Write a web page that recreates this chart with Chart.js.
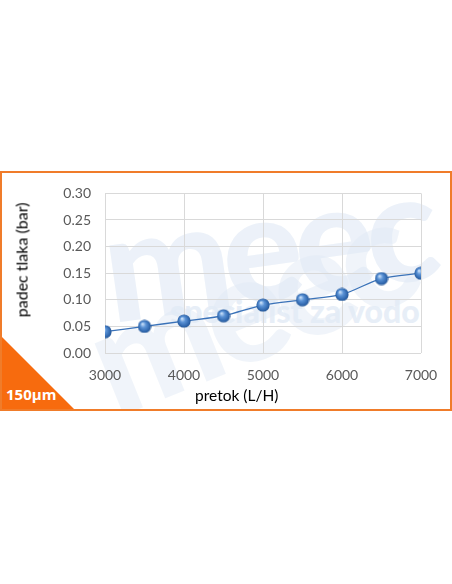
<!DOCTYPE html>
<html>
<head>
<meta charset="utf-8">
<script src="https://cdn.jsdelivr.net/npm/chart.js@4"></script>
<style>
  body { margin: 0; width: 452px; height: 584px; background: #fff; position: relative; overflow: hidden; font-family: Lato, "Open Sans", sans-serif; }
  #box { position: absolute; left: 0; top: 171px; width: 452px; height: 240px; box-sizing: border-box; border: 2px solid #f07c2a; overflow: hidden; }
  .wm { position: absolute; color: #e2ebf6; font-weight: 900; white-space: nowrap; font-family: Lato, sans-serif; }
  #wm1 { left: 100px; top: -20px; font-size: 150px; letter-spacing: -8px; transform: rotate(-8deg); opacity: 0.65; }
  #wm2 { left: 80px; top: 40px; font-size: 150px; letter-spacing: -8px; transform: rotate(-22deg); opacity: 0.5; }
  #wm3 { left: 168px; top: 118px; font-size: 32px; opacity: 0.8; }
  #tri { position: absolute; left: 0; bottom: 0; width: 72px; height: 72px; background: #f76b0e; clip-path: polygon(0 0, 0 100%, 100% 100%); }
  #tag { position: absolute; left: 4px; bottom: 5px; color: #fff; font-weight: bold; font-size: 15px; font-family: "Open Sans", sans-serif; }
  #wrap { position: absolute; left: 0; top: 171px; width: 452px; height: 240px; }
  .title { position: absolute; color: #000; font-family: Lato, sans-serif; white-space: nowrap; }
  #xt { left: 195px; top: 386px; font-size: 15.5px; }
  #yt { left: 21px; top: 260px; font-size: 16px; transform: translate(-50%, -50%) rotate(-90deg); }
</style>
</head>
<body>
<div id="box">
  <div class="wm" id="wm1">meec</div>
  <div class="wm" id="wm2">meec</div>
  <div class="wm" id="wm3">specialist za vodo</div>
  <div id="tri"></div>
  <div id="tag">150µm</div>
</div>
<div id="wrap"><canvas id="chart" width="452" height="240"></canvas></div>
<div class="title" id="xt">pretok (L/H)</div>
<div class="title" id="yt">padec tlaka (bar)</div>
<script>
const flowValues = [3000, 3500, 4000, 4500, 5000, 5500, 6000, 6500, 7000];
const dropValues = [0.04, 0.05, 0.06, 0.07, 0.09, 0.10, 0.11, 0.14, 0.15];
const xTicks = [3000, 4000, 5000, 6000, 7000];
const yTicks = [0, 0.05, 0.10, 0.15, 0.20, 0.25, 0.30];

// kroglica za točke
const ball = document.createElement("canvas");
ball.width = 14; ball.height = 14;
const b = ball.getContext("2d");
const g = b.createRadialGradient(5, 4.5, 0.5, 7, 7, 7);
g.addColorStop(0, "#c4dcf7");
g.addColorStop(0.35, "#5b93d6");
g.addColorStop(0.8, "#2f66ad");
g.addColorStop(1, "#24548f");
b.fillStyle = g;
b.beginPath();
b.arc(7, 7, 6.6, 0, Math.PI * 2);
b.fill();

const points = flowValues.map((x, i) => ({ x, y: dropValues[i] }));

new Chart(document.getElementById("chart"), {
  type: "line",
  data: {
    datasets: [{
      data: points,
      borderColor: "#3a72b8",
      borderWidth: 1.3,
      tension: 0.3,
      pointStyle: ball,
      fill: false
    }]
  },
  options: {
    responsive: false,
    animation: false,
    layout: { padding: { left: 0, right: 31, top: 15, bottom: 0 } },
    plugins: { legend: { display: false }, tooltip: { enabled: false } },
    scales: {
      x: {
        type: "linear",
        min: 3000, max: 7000,
        afterBuildTicks: (ax) => { ax.ticks = xTicks.map(v => ({ value: v })); },
        afterFit: (ax) => { ax.height = 58; },
        grid: { color: "#d9d9d9", drawTicks: false },
        border: { display: false },
        ticks: { color: "#595959", font: { family: "Lato", size: 14 }, padding: 14, callback: v => v }
      },
      y: {
        min: 0, max: 0.30,
        afterBuildTicks: (ax) => { ax.ticks = yTicks.map(v => ({ value: v })); },
        afterFit: (ax) => { ax.width = 105; },
        grid: { color: "#d9d9d9", drawTicks: false },
        border: { display: false },
        ticks: { color: "#595959", font: { family: "Lato", size: 14 }, padding: 14, callback: v => v.toFixed(2) }
      }
    }
  }
});
</script>
</body>
</html>
